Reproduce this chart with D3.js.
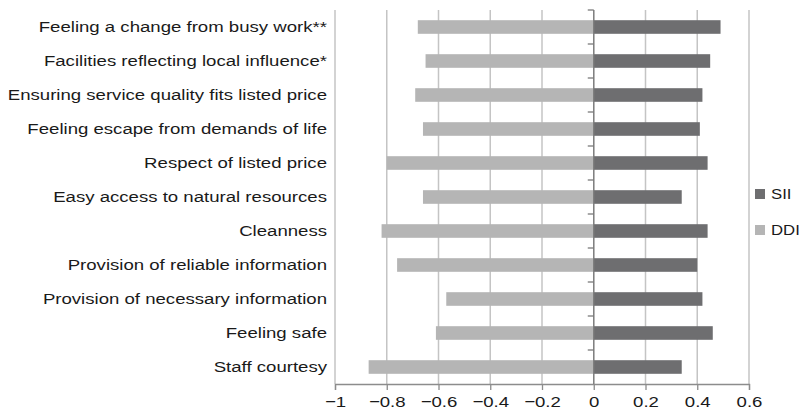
<!DOCTYPE html>
<html>
<head>
<meta charset="utf-8">
<script src="https://cdn.jsdelivr.net/npm/d3@7"></script>
<style>
  body { margin: 0; background: #fff; }
  text { font-family: "Liberation Sans", Arial, sans-serif; fill: #1a1a1a; }
</style>
</head>
<body>
<div id="chart"></div>
<script>
// categories, top to bottom
const categories = [
  'Feeling a change from busy work**',
  'Facilities reflecting local influence*',
  'Ensuring service quality fits listed price',
  'Feeling escape from demands of life',
  'Respect of listed price',
  'Easy access to natural resources',
  'Cleanness',
  'Provision of reliable information',
  'Provision of necessary information',
  'Feeling safe',
  'Staff courtesy'
];
const sii = [0.49, 0.45, 0.42, 0.41, 0.44, 0.34, 0.44, 0.40, 0.42, 0.46, 0.34];
const ddi = [-0.68, -0.65, -0.69, -0.66, -0.80, -0.66, -0.82, -0.76, -0.57, -0.61, -0.87];
const xTicks = [-1, -0.8, -0.6, -0.4, -0.2, 0, 0.2, 0.4, 0.6];
const seriesNames = ['SII', 'DDI'];

const width = 805, height = 413;
const margin = {top: 10, right: 56, bottom: 29, left: 335};
const colors = {SII: '#6e6e70', DDI: '#b5b5b5'};
const stretch = 1.2; // the text in the original is a bit wide

const svg = d3.select('#chart')
              .append('svg')
              .attr('width', width)
              .attr('height', height);

const x = d3.scaleLinear()
            .domain([-1, 0.6])
            .range([margin.left, width - margin.right]);
const y = d3.scaleBand()
            .domain(categories)
            .range([margin.top, height - margin.bottom])
            .paddingInner(0.6)
            .paddingOuter(0.3);

// vertical grid
svg.append('g')
   .selectAll('line')
   .data(xTicks)
   .join('line')
   .attr('x1', d => x(d))
   .attr('x2', d => x(d))
   .attr('y1', margin.top)
   .attr('y2', height - margin.bottom)
   .attr('stroke', '#c4c4c4')
   .attr('stroke-width', 1.5);

const rows = categories.map((c, i) => ({cat: c, sii: sii[i], ddi: ddi[i]}));

svg.append('g')
   .selectAll('rect')
   .data(rows)
   .join('rect')
   .attr('x', d => x(d.ddi))
   .attr('y', d => y(d.cat))
   .attr('width', d => x(0) - x(d.ddi))
   .attr('height', y.bandwidth())
   .attr('fill', colors.DDI);

svg.append('g')
   .selectAll('rect')
   .data(rows)
   .join('rect')
   .attr('x', x(0))
   .attr('y', d => y(d.cat))
   .attr('width', d => x(d.sii) - x(0))
   .attr('height', y.bandwidth())
   .attr('fill', colors.SII);

// x axis
const xAxis = svg.append('g')
                 .attr('transform', `translate(0, ${height - margin.bottom})`)
                 .call(d3.axisBottom(x)
                         .tickValues(xTicks)
                         .tickFormat(d3.format('~g'))
                         .tickSizeOuter(0)
                         .tickSize(6));
xAxis.select('.domain').attr('stroke', '#8c8c8c').attr('stroke-width', 1.3);
xAxis.selectAll('.tick line').attr('stroke', '#8c8c8c').attr('stroke-width', 1.3);
xAxis.selectAll('text')
     .attr('font-size', 15.5)
     .attr('y', 0)
     .attr('dy', 0)
     .attr('transform', `translate(0, 23) scale(${stretch}, 1)`)
     .style('font-family', '"Liberation Sans", Arial, sans-serif');

// y axis at zero with category boundary ticks
const zero = svg.append('g');
zero.append('line')
    .attr('x1', x(0)).attr('x2', x(0))
    .attr('y1', margin.top).attr('y2', height - margin.bottom)
    .attr('stroke', '#7a7a7a')
    .attr('stroke-width', 1.3);
const step = y.step();
zero.selectAll('.bt')
    .data(d3.range(categories.length))
    .join('line')
    .attr('class', 'bt')
    .attr('x1', x(0) - 6).attr('x2', x(0))
    .attr('y1', i => margin.top + i * step)
    .attr('y2', i => margin.top + i * step)
    .attr('stroke', '#7a7a7a')
    .attr('stroke-width', 1.3);

// category labels
svg.append('g')
   .selectAll('text')
   .data(categories)
   .join('text')
   .attr('transform', d => `translate(${margin.left - 8}, ${y(d) + y.bandwidth() / 2}) scale(${stretch}, 1)`)
   .attr('dy', '0.35em')
   .attr('text-anchor', 'end')
   .attr('font-size', 15.5)
   .text(d => d);

// legend (pulled in a little so "DDI" stays on the page)
const legend = svg.append('g')
                  .attr('transform', 'translate(755, 189)');
legend.selectAll('g')
      .data(seriesNames)
      .join('g')
      .attr('transform', (d, i) => `translate(0, ${i * 36})`)
      .each(function (d) {
        const g = d3.select(this);
        g.append('rect')
         .attr('width', 10)
         .attr('height', 10)
         .attr('fill', colors[d]);
        g.append('text')
         .attr('transform', 'translate(16, 5) scale(1.08, 1)')
         .attr('dy', '0.35em')
         .attr('font-size', 15.5)
         .text(d);
      });
</script>
</body>
</html>
